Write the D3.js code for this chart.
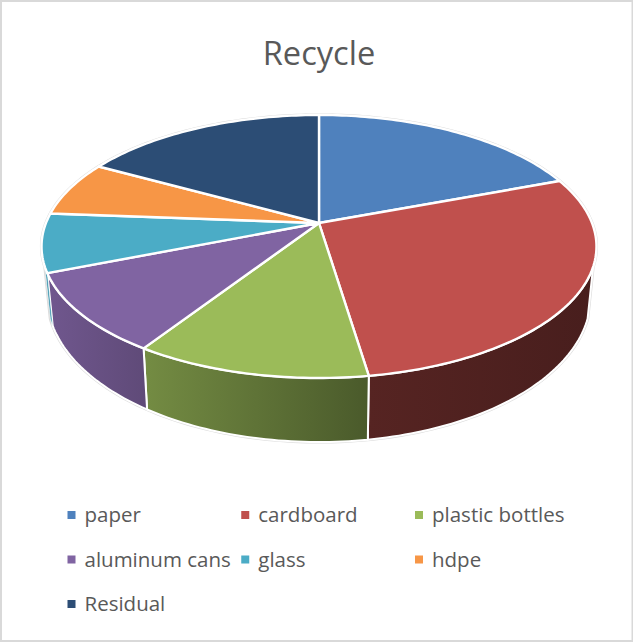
<!DOCTYPE html>
<html><head><meta charset="utf-8">
<script src="https://cdn.jsdelivr.net/npm/d3@7/dist/d3.min.js"></script>
<style>html,body{margin:0;padding:0;background:#fff}svg{display:block}text{font-family:"Open Sans",sans-serif}</style>
</head><body><div id="c"></div>
<script>
const categories = ["paper","cardboard","plastic bottles","aluminum cans","glass","hdpe","Residual"];
const values = [19.3,28.3,11.6,9.8,7.2,6.8,17.0];
const colors = ["#4f81bd","#c0504d","#9bbb59","#8064a2","#4bacc6","#f79646","#2c4d75"];
const wallFrom = ["#3b618e","#562422","#748c43","#70578e","#2f8ea8","#b96f34","#213a58"];
const wallTo   = ["#3b618e","#481e1d","#4a5a2b","#5f4a78","#2f8ea8","#b96f34","#213a58"];

const W=633,H=642;
const svg=d3.select("#c").append("svg").attr("width",W).attr("height",H);
svg.append("rect").attr("x",1).attr("y",1).attr("width",W-1.5).attr("height",H-2)
  .attr("fill","#fff").attr("stroke","#d9d9d9").attr("stroke-width",2);

// perspective projection of the pie disc
const cx=319,cy=223,A=273,B=127.3,k=-0.1787;
function proj(t,f){
  const X=Math.sin(t),Z=Math.cos(t)*-1; // t=0 at back, clockwise
  const d=1+k*Z;
  return [cx+A*(1-0.02*f)*X/d, cy+B*Z/d+f*(46+18*Z)];
}
const pie=d3.pie().sort(null).value(d=>d)(values);
const line=d3.line();
const arcPts=(a,b,f)=>{const n=Math.max(2,Math.ceil(Math.abs(b-a)/0.02));
  return d3.range(n+1).map(i=>proj(a+(b-a)*i/n,f));};

// walls
const vis0=109*Math.PI/180,vis1=251*Math.PI/180;
const defs=svg.append("defs");
pie.forEach((p,i)=>{
  const g=defs.append("linearGradient").attr("id","w"+i);
  g.append("stop").attr("offset",0).attr("stop-color",wallFrom[i]);
  g.append("stop").attr("offset",1).attr("stop-color",wallTo[i]);
});
// faint silhouette
const sil=[...arcPts(0,vis0,0),...arcPts(vis0,vis1,1),...arcPts(vis1,2*Math.PI,0)];
svg.append("path").attr("d",line(sil)+"Z").attr("fill","#fff").attr("stroke","#dcdcdc").attr("stroke-width",3.2);

pie.forEach((p,i)=>{
  const a=Math.max(p.startAngle,vis0),b=Math.min(p.endAngle,vis1);
  if(b<=a) return;
  const pts=[...arcPts(a,b,0),...arcPts(b,a,1)];
  svg.append("path").attr("d",line(pts)+"Z").attr("fill",`url(#w${i})`)
    .attr("stroke","#fff").attr("stroke-width",i===4?0.6:2).attr("stroke-linejoin","round");
});
// top faces
pie.forEach((p,i)=>{
  const pts=[[cx,cy],...arcPts(p.startAngle,p.endAngle,0)];
  svg.append("path").attr("d",line(pts)+"Z").attr("fill",colors[i])
    .attr("stroke","#fff").attr("stroke-width",2.4).attr("stroke-linejoin","round");
});

// title
svg.append("text").attr("x",319).attr("y",65).attr("text-anchor","middle")
  .attr("font-size",32.6).attr("fill","#595959").text("Recycle");

// legend
const colX=d3.scalePoint().domain([0,1,2]).range([67.5,415]);
const rowY=d3.scalePoint().domain([0,1,2]).range([515,604]);
categories.forEach((c,i)=>{
  const x=colX(i%3),y=rowY(Math.floor(i/3));
  svg.append("rect").attr("x",x).attr("y",y-4).attr("width",8).attr("height",8).attr("fill",colors[i]);
  svg.append("text").attr("x",x+17).attr("y",y+7).attr("font-size",20.5).attr("fill","#595959").text(c);
});
</script></body></html>
